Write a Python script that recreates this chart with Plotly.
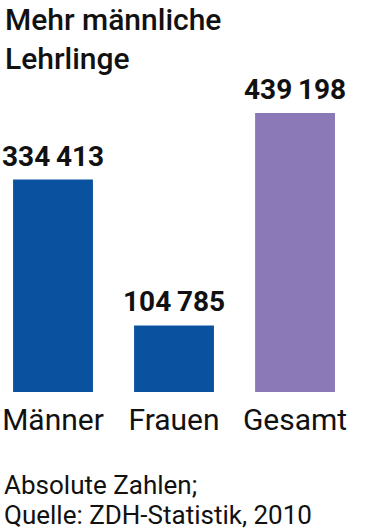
import plotly.graph_objects as go

categories = ["Männer", "Frauen", "Gesamt"]
values = [334413, 104785, 439198]
bar_colors = ["#0a52a0", "#0a52a0", "#8a79b6"]
title_lines = ["Mehr männliche", "Lehrlinge"]
footer_lines = ["Absolute Zahlen;", "Quelle: ZDH-Statistik, 2010"]

FONT = "Roboto"
PLOT_H = 279.0  # plot area height in px

def fmt(v):
    s = f"{v:,}"
    return s.replace(",", "\u2009")

def py(pixel_y):
    return (392 - pixel_y) / PLOT_H

fig = go.Figure()
fig.add_trace(go.Bar(
    x=categories, y=values, marker_color=bar_colors, width=0.66,
    marker_line_width=0, hoverinfo="skip",
))

for c, v in zip(categories, values):
    fig.add_annotation(x=c, y=v, xref="x", yref="y", text=f"<b>{fmt(v)}</b>",
                       showarrow=False, yanchor="bottom", yshift=5,
                       font=dict(family=FONT, size=28, color="#111111"))

fig.update_layout(
    width=372, height=531,
    margin=dict(l=0, r=0, t=113, b=139),
    paper_bgcolor="white", plot_bgcolor="white",
    showlegend=False,
    xaxis=dict(range=[-0.438, 2.636], showgrid=False, zeroline=False, showline=False,
               ticks="", tickfont=dict(family=FONT, size=30, color="#111111"),
               ticklabelstandoff=7),
    yaxis=dict(range=[0, max(values)], visible=False),
)

fig.add_annotation(xref="paper", yref="paper", x=0.008, y=py(0), xanchor="left", yanchor="top",
                   text="<br>".join(title_lines), showarrow=False, align="left",
                   font=dict(family=FONT, size=30, color="#111111", weight=500))

for i, line in enumerate(footer_lines):
    fig.add_annotation(xref="paper", yref="paper", x=0.005, y=py(468 + 30 * i),
                       xanchor="left", yanchor="top", text=line, showarrow=False,
                       align="left", font=dict(family=FONT, size=26, color="#111111"))

fig.write_html("out.html", config={"displayModeBar": False},
               post_script="document.body.style.margin='0';")
